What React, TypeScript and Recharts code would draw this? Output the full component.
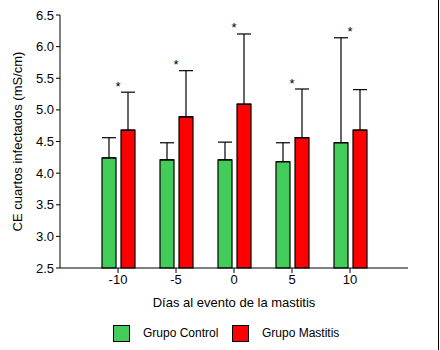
import { ComposedChart, Bar, Line, ErrorBar, XAxis, YAxis, Legend } from 'recharts';

const days = ['-10', '-5', '0', '5', '10'];
const controlMean = [4.24, 4.21, 4.21, 4.18, 4.48];
const controlSD = [0.32, 0.27, 0.28, 0.3, 1.66];
const mastitisMean = [4.68, 4.89, 5.09, 4.56, 4.68];
const mastitisSD = [0.6, 0.73, 1.11, 0.77, 0.64];
const significant = [true, true, true, true, true];
const yTicks = [2.5, 3.0, 3.5, 4.0, 4.5, 5.0, 5.5, 6.0, 6.5];

const GREEN = '#44cc5a';
const RED = '#ff0000';
const FONT = '"Liberation Sans", Arial, sans-serif';

const data = days.map((day, i) => ({
  day,
  control: controlMean[i],
  controlErr: [0, controlSD[i]],
  mastitis: mastitisMean[i],
  mastitisErr: [0, mastitisSD[i]],
  star: significant[i]
    ? Math.max(controlMean[i] + controlSD[i], mastitisMean[i] + mastitisSD[i])
    : null,
}));

const StarLabel = (props: any) => {
  const { x, y, value } = props;
  if (value == null) return null;
  return (
    <text x={x} y={y - 1.5} textAnchor="middle" fontSize={13} fontFamily={FONT} fill="#000">
      *
    </text>
  );
};

const LegendBox = () => (
  <div style={{ position: 'relative', height: 30, width: 440, fontFamily: FONT, fontSize: 12, color: '#000' }}>
    <div style={{ position: 'absolute', left: 113, top: 7, width: 17, height: 17, boxSizing: 'border-box', background: GREEN, border: '1px solid #000' }} />
    <span style={{ position: 'absolute', left: 143, top: 8 }}>Grupo Control</span>
    <div style={{ position: 'absolute', left: 232, top: 7, width: 17, height: 17, boxSizing: 'border-box', background: RED, border: '1px solid #000' }} />
    <span style={{ position: 'absolute', left: 262, top: 8 }}>Grupo Mastitis</span>
  </div>
);

const App = () => {
  return (
    <div style={{ position: 'absolute', top: 0, left: 0, width: 440, height: 350, background: '#fff' }}>
      <ComposedChart
        width={440}
        height={350}
        data={data}
        margin={{ top: 15, right: 32, bottom: 2, left: 0 }}
        barSize={14}
        barGap={5}
      >
        <XAxis
          dataKey="day"
          padding={{ left: 29, right: 29 }}
          height={50}
          tickSize={5}
          tickMargin={2}
          stroke="#000"
          tick={{ fill: '#000', fontSize: 13, fontFamily: FONT }}
          label={{
            value: 'Días al evento de la mastitis',
            position: 'insideBottom',
            offset: 11,
            fill: '#000',
            fontSize: 13,
            fontFamily: FONT,
          }}
        />
        <YAxis
          width={60}
          domain={[2.5, 6.5]}
          ticks={yTicks}
          interval={0}
          tickSize={4}
          tickMargin={2}
          stroke="#000"
          tickFormatter={(v: number) => v.toFixed(1)}
          tick={{ fill: '#000', fontSize: 13, fontFamily: FONT }}
          label={{
            value: 'CE cuartos infectados (mS/cm)',
            angle: -90,
            position: 'insideLeft',
            offset: 17,
            fill: '#000',
            fontSize: 13,
            fontFamily: FONT,
            style: { textAnchor: 'middle' },
          }}
        />
        <Bar dataKey="control" name="Grupo Control" fill={GREEN} stroke="#000" strokeWidth={1.2} isAnimationActive={false}>
          <ErrorBar dataKey="controlErr" direction="y" width={7} stroke="#000" strokeWidth={1.2} />
        </Bar>
        <Bar dataKey="mastitis" name="Grupo Mastitis" fill={RED} stroke="#000" strokeWidth={1.2} isAnimationActive={false}>
          <ErrorBar dataKey="mastitisErr" direction="y" width={7} stroke="#000" strokeWidth={1.2} />
        </Bar>
        <Line
          dataKey="star"
          stroke="none"
          dot={false}
          activeDot={false}
          legendType="none"
          isAnimationActive={false}
          label={<StarLabel />}
        />
        <Legend verticalAlign="bottom" height={30} content={() => <LegendBox />} />
      </ComposedChart>
      <div style={{ position: 'absolute', left: 438, top: 0, width: 1, height: 350, background: '#000' }} />
    </div>
  );
};

export default App;
